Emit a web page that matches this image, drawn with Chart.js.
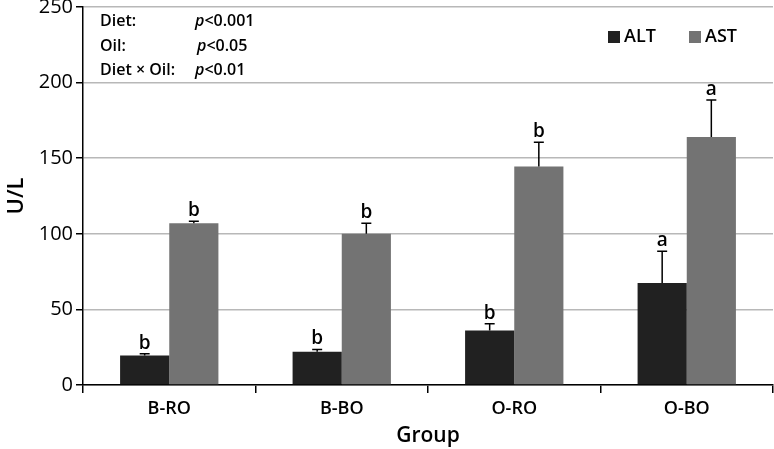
<!DOCTYPE html>
<html>
<head>
<meta charset="utf-8">
<script src="https://cdn.jsdelivr.net/npm/chart.js@4"></script>
<style>
  html, body { margin: 0; padding: 0; background: #fff; }
  #wrap { width: 774px; height: 449px; }
</style>
</head>
<body>
<div id="wrap"><canvas id="liverChart"></canvas></div>
<script>
const groups = ['B-RO', 'B-BO', 'O-RO', 'O-BO'];
const altValues = [19.5, 22, 36, 67.5];
const altErrors = [1.2, 1.5, 4.5, 21];
const altLetters = ['b', 'b', 'b', 'a'];
const astValues = [107, 100, 144.5, 164];
const astErrors = [1.3, 7, 16, 24.5];
const astLetters = ['b', 'b', 'b', 'a'];
const yTicks = [0, 50, 100, 150, 200, 250];
const statLines = [
  ['Diet:', '<0.001'],
  ['Oil:', '<0.05'],
  ['Diet \u00d7 Oil:', '<0.01']
];

const FONT = '"Open Sans", "DejaVu Sans", sans-serif';

// error bars, letters, stats text and legend
const extras = {
  id: 'extras',
  afterDatasetsDraw(chart) {
    const ctx = chart.ctx;
    const y = chart.scales.y;
    const errs = [altErrors, astErrors];
    const letters = [altLetters, astLetters];
    ctx.save();
    chart.data.datasets.forEach((ds, di) => {
      const meta = chart.getDatasetMeta(di);
      meta.data.forEach((bar, i) => {
        const top = y.getPixelForValue(ds.data[i] + errs[di][i]);
        ctx.strokeStyle = '#000';
        ctx.lineWidth = 1.5;
        ctx.beginPath();
        ctx.moveTo(bar.x, bar.y);
        ctx.lineTo(bar.x, top);
        ctx.moveTo(bar.x - 5, top);
        ctx.lineTo(bar.x + 5, top);
        ctx.stroke();
        ctx.fillStyle = '#000';
        ctx.font = '600 19px ' + FONT;
        ctx.textAlign = 'center';
        ctx.textBaseline = 'bottom';
        ctx.fillText(letters[di][i], bar.x, top - 1);
      });
    });

    // stats box
    ctx.textBaseline = 'middle';
    ctx.textAlign = 'left';
    const rows = [21, 46, 70];
    statLines.forEach((row, i) => {
      ctx.font = '600 16px ' + FONT;
      ctx.fillText(row[0], 100, rows[i]);
      const px = i === 1 ? 197 : 195;
      ctx.font = 'italic 600 16px ' + FONT;
      ctx.fillText('p', px, rows[i]);
      const w = ctx.measureText('p').width;
      ctx.font = '600 16px ' + FONT;
      ctx.fillText(row[1], px + w, rows[i]);
    });

    // legend
    ctx.font = '600 18px ' + FONT;
    const items = [[608, 'ALT'], [689, 'AST']];
    items.forEach((it, i) => {
      ctx.fillStyle = chart.data.datasets[i].backgroundColor;
      ctx.fillRect(it[0], 31, 12, 12);
      ctx.fillStyle = '#000';
      ctx.fillText(it[1], it[0] + 16, 37);
    });
    ctx.restore();
  }
};

new Chart(document.getElementById('liverChart'), {
  type: 'bar',
  data: {
    labels: groups,
    datasets: [
      { label: 'ALT', data: altValues, backgroundColor: '#212121' },
      { label: 'AST', data: astValues, backgroundColor: '#737373' }
    ]
  },
  options: {
    responsive: true,
    maintainAspectRatio: false,
    animation: false,
    categoryPercentage: 0.57,
    barPercentage: 1,
    layout: { padding: { top: 7, right: 1, left: 0, bottom: 0 } },
    plugins: {
      legend: { display: false },
      tooltip: { enabled: false }
    },
    scales: {
      x: {
        grid: { drawOnChartArea: false, offset: true, tickLength: 8, tickColor: '#000', lineWidth: 1.5 },
        border: { color: '#000', width: 1.5 },
        ticks: { color: '#000', font: { family: FONT, size: 18, weight: '600' }, padding: 5 },
        title: { display: true, text: 'Group', color: '#000', font: { family: FONT, size: 21, weight: '600' }, padding: { top: 0, bottom: 0 } },
        afterFit(s) { s.height = 64; }
      },
      y: {
        min: 0,
        max: 250,
        afterBuildTicks(s) { s.ticks = yTicks.map(v => ({ value: v })); },
        grid: { color: '#b8b8b8', lineWidth: 1.5, tickLength: 7, tickColor: '#000' },
        border: { color: '#000', width: 1.5 },
        ticks: { color: '#000', font: { family: FONT, size: 20 }, padding: 3 },
        title: { display: true, text: 'U/L', color: '#000', font: { family: FONT, size: 22, weight: '600' }, padding: { top: 4, bottom: 8 } },
        afterFit(s) { s.width = 83; s.paddingTop = 0; s.paddingBottom = 0; }
      }
    }
  },
  plugins: [extras]
});
</script>
</body>
</html>
